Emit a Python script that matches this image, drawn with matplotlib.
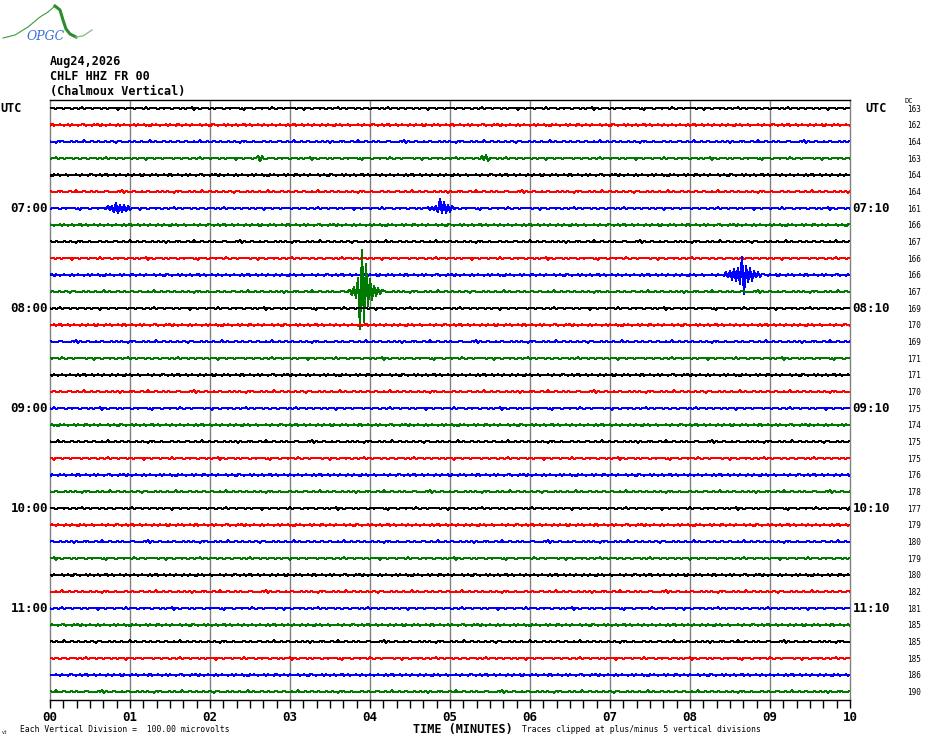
import numpy as np
import matplotlib

matplotlib.use("Agg")
import matplotlib.pyplot as plt

## header text
date_str = "Aug24,2026"
station_str = "CHLF HHZ FR 00"
desc_str = "(Chalmoux Vertical)"

## hour labels (row index of the trace they sit on)
left_hours = ["07:00", "08:00", "09:00", "10:00", "11:00"]
right_hours = ["07:10", "08:10", "09:10", "10:10", "11:10"]
hour_rows = [6, 12, 18, 24, 30]

## DC offset printed at the right of each trace
dc_offsets = [163, 162, 164, 163, 164, 164, 161, 166, 167, 166, 166, 167,
              169, 170, 169, 171, 171, 170, 175, 174, 175, 175, 176, 178,
              177, 179, 180, 179, 180, 182, 181, 185, 185, 185, 186, 190]

minute_labels = ["00", "01", "02", "03", "04", "05", "06", "07", "08", "09", "10"]
trace_colors = ["#000000", "#ff0000", "#0000ff", "#007a00"]

## background wiggle, in pixels, one sample every 2 px
noise_px = [0, 1, 0, -1, 1, 0, 0, -1, 1, 1, 0, -1, 0, 1, -1, 0, 2, -1, 0, 0,
            1, -1, 0, 1, 0, 0, -1, 1, 0, -1, 1, 0, 0, 1, -2, 1, 0, 0, -1, 1,
            0, 1, -1, 0, 0, 1, 0, -1, 2, -1, 0, 0, 1, 0, -1, 0, 1, -1, 1, 0,
            0, -1, 0, 1, 1, -1, 0, 0, -1, 1, 0, 2, -2, 1, 0, -1, 0, 1, 0, 0,
            -1, 1, -1, 0, 1, 0, 0, -1, 0, 1, -1, 1, 0, 0, 1, -1, 0, -2, 1, 0,
            1, 0, -1, 0, 0, 1, -1, 1, 0, 0, -1, 2, 0, -1, 0, 1, 0, -1, 1, 0,
            0, 0, 1, -1, 0, 1, 0, -2, 1, 1, 0, -1, 0, 0, 1, -1, 1, 0, -1, 0,
            1, -1, 0, 0, 2, -1, 0, 1, -1, 0, 0, 1, 0, -1, 1, 0, -1, 0, 1, 0,
            -1, 0, 1, 0, 0, -1, 1, -1, 0, 2, -1, 0, 0, 1, -1, 0, 1, 0, -1, 1,
            0, 0, -1, 1, 0, -1, 1, 0, 0, -2, 1, 0, 1, -1, 0, 0, 1, -1, 0, 0]

## events: trace row, start (minutes), samples in pixels (up positive)
event_rows = [6, 6, 10, 11, 3, 3]
event_start = [0.725, 4.775, 8.45, 3.75, 2.6, 5.4]
event_px = [
    [1, -2, 3, -4, 5, -5, 4, -4, 3, -3, 2, -2, 1],
    [1, -2, 3, -4, 9, -5, 6, -4, 3, -3, 2, -1],
    [2, -3, 4, -4, 6, -7, 8, -9, 17, -18, 9, -7, 6, -5, 4, -3, 3, -2, 2],
    [2, -3, 4, -6, 12, -36, 41, -30, 28, -14, 12, -8, 6, -4, 3, -2, 2],
    [2, -3, 3, -2],
    [2, -2, 3, -2],
]

n_rows = len(dc_offsets)
dt = 0.025  # minutes per sample (2 px)
n_samp = 401
row_px = 100.0 / 6  # pixels between traces
noise_scale = 0.6

W, H = 930, 744
fig = plt.figure(figsize=(W / 100, H / 100), dpi=100)
ax = fig.add_axes([50 / W, 44 / H, 800 / W, 600 / H])

mono = "DejaVu Sans Mono"

t = np.arange(n_samp) * dt
noise = np.array(noise_px, dtype=float) * noise_scale
for row in range(n_rows):
    idx = (np.arange(n_samp) + 47 * row) % len(noise)
    sig = noise[idx].copy()
    for r, t0, ev in zip(event_rows, event_start, event_px):
        if r != row:
            continue
        k0 = int(round(t0 / dt))
        sig[k0:k0 + len(ev)] += np.array(ev, dtype=float)
    ax.plot(t, row - sig / row_px, color=trace_colors[row % 4], lw=0.8,
            antialiased=False, zorder=3)

for m in range(1, 10):
    ax.axvline(m, color="#808080", lw=1, zorder=1)

ax.set_xlim(0, 10)
ax.set_ylim(n_rows - 0.5, -0.5)
ax.set_yticks([])
ax.set_xticks(range(11))
ax.set_xticklabels(minute_labels, fontfamily=mono, fontweight="bold", fontsize=9)
ax.set_xticks(np.arange(0, 10.01, 1 / 6), minor=True)
ax.tick_params(axis="x", which="both", direction="out", length=6, width=1, pad=2)
ax.spines["left"].set_color("#808080")
ax.spines["right"].set_color("#808080")
for s in ax.spines.values():
    s.set_linewidth(1)

# hour labels both sides
for lab, r in zip(left_hours, hour_rows):
    ax.text(-0.025, r, lab, ha="right", va="center", fontfamily=mono,
            fontweight="bold", fontsize=9, clip_on=False)
for lab, r in zip(right_hours, hour_rows):
    ax.text(10.03, r, lab, ha="left", va="center", fontfamily=mono,
            fontweight="bold", fontsize=9, clip_on=False)
ax.text(-0.625, 0, "UTC", ha="left", va="center", fontfamily=mono,
        fontweight="bold", fontsize=8.5, clip_on=False)
ax.text(10.19, 0, "UTC", ha="left", va="center", fontfamily=mono,
        fontweight="bold", fontsize=8.5, clip_on=False)

# DC offsets
for r, dc in enumerate(dc_offsets):
    ax.text(10.72, r + 0.05, str(dc), ha="left", va="center", fontfamily=mono,
            fontsize=5.5, clip_on=False)
ax.text(10.68, -0.45, "DC", ha="left", va="center", fontfamily=mono,
        fontsize=5, clip_on=False)


def fx(x):
    return x / W


def fy(y):
    return 1 - y / H


# header
for txt, y in zip([date_str, station_str, desc_str], [61, 76, 92]):
    fig.text(fx(50), fy(y), txt, ha="left", va="center", fontfamily=mono,
             fontweight="bold", fontsize=8.5)

# bottom notes
fig.text(fx(463), fy(729), "TIME (MINUTES)", ha="center", va="center",
         fontfamily=mono, fontweight="bold", fontsize=8.5)
fig.text(fx(20), fy(730), "Each Vertical Division =  100.00 microvolts",
         ha="left", va="center", fontfamily=mono, fontsize=5.8)
fig.text(fx(522), fy(730), "Traces clipped at plus/minus 5 vertical divisions",
         ha="left", va="center", fontfamily=mono, fontsize=5.8)
fig.text(fx(2), fy(732), "vt", ha="left", va="center", fontfamily=mono, fontsize=3.5)

# OPGC logo
lax = fig.add_axes([0, fy(45), 100 / W, 45 / H])
lax.set_xlim(0, 100)
lax.set_ylim(45, 0)
lax.axis("off")
lax.plot([3, 15, 28, 40, 48, 55], [38, 35, 27, 17, 12, 6], color="#3c9a3c", lw=0.8)
lax.plot([55, 60, 63, 66, 70, 76], [6, 10, 20, 29, 34, 37], color="#2e8b2e", lw=2.2)
lax.plot([76, 83, 92], [37, 36, 30], color="#8cc08c", lw=1)
lax.text(46, 36, "OPGC", ha="center", va="center", color="#3a6fd8",
         fontstyle="italic", fontsize=9, fontfamily="DejaVu Serif")

fig.savefig("out.png", dpi=100)
